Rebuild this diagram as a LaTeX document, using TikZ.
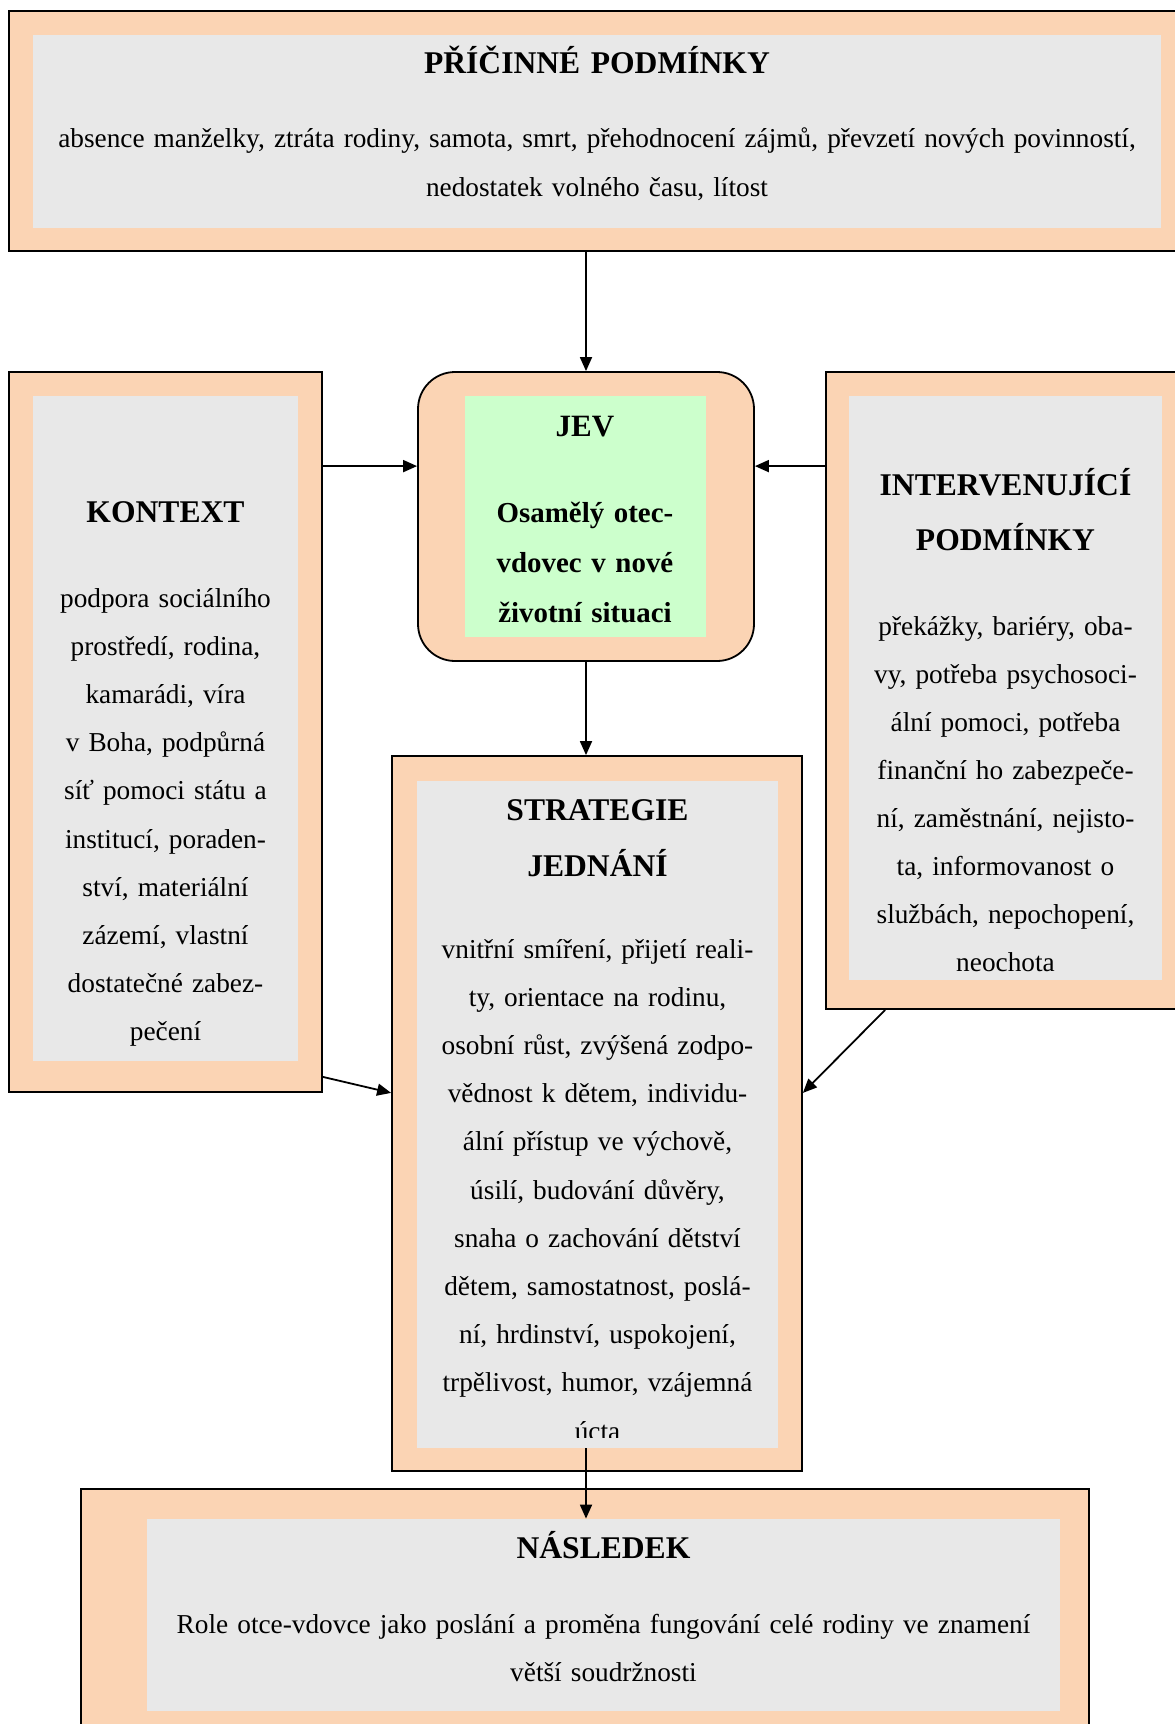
\documentclass[tikz,border=0pt]{standalone}
\usepackage{fontspec}
\setmainfont{Liberation Serif}
\usetikzlibrary{arrows.meta}
\definecolor{paradigmPeach}{RGB}{251,212,180}
\definecolor{paradigmGray}{RGB}{232,232,232}
\definecolor{paradigmGreen}{RGB}{204,255,204}

\begin{document}
\begin{tikzpicture}[x=0.5pt, y=-0.5pt,
        outerBox/.style={draw, line width=0.9pt, fill=paradigmPeach, inner sep=0pt},
        innerBox/.style={fill=paradigmGray, inner sep=0pt},
        titleText/.style={anchor=base, inner sep=0pt, align=center, font=\fontsize{15.8}{27.5}\selectfont\bfseries},
        bodyText/.style={anchor=base, inner sep=0pt, align=center, font=\fontsize{13.65}{24.1}\selectfont},
        flowArrow/.style={-{Triangle[length=7pt,width=6pt]}, line width=0.9pt}]
            \useasboundingbox (0,0) rectangle (1174,1724);
            % pricinne podminky
            \node[outerBox, minimum width=590.5pt, minimum height=120pt] (cause) at (599.5,131) {};
            \node[innerBox, minimum width=564pt, minimum height=96.5pt] (cause-in) at (597,131.5) {};
            \node[titleText, text width=560pt] (cause-title) at (597,73) {PŘÍČINNÉ PODMÍNKY};
            \node[bodyText, text width=560pt, font=\fontsize{13.65}{24.5}\selectfont] (cause-body) at (597,147) {absence manželky, ztráta rodiny, samota, smrt, přehodnocení zájmů, převzetí nových povinností,\\nedostatek volného času, lítost};
            % jev
            \node[outerBox, rounded corners=18.5pt, minimum width=168pt, minimum height=144.5pt] (jev) at (586,516.5) {};
            \node[innerBox, fill=paradigmGreen, minimum width=120.5pt, minimum height=120.5pt] (jev-in) at (585.5,516.5) {};
            \node[titleText, text width=118pt, font=\fontsize{15.5}{27.5}\selectfont\bfseries] (jev-title) at (585,436) {JEV};
            \node[bodyText, text width=118pt, font=\fontsize{14.45}{25}\selectfont\bfseries] (jev-body) at (585,522) {Osamělý otec-\\vdovec v nové\\životní situaci};
            % kontext
            \node[outerBox, minimum width=156.5pt, minimum height=360pt] (kontext) at (165.5,732) {};
            \node[innerBox, minimum width=132.5pt, minimum height=332.5pt] (kontext-in) at (165.5,728.5) {};
            \node[titleText, text width=130pt] (kontext-title) at (165.5,522) {KONTEXT};
            \node[bodyText, text width=130pt] (kontext-body) at (165.5,607) {podpora sociálního\\prostředí, rodina,\\kamarádi, víra\\v Boha, podpůrná\\síť pomoci státu a\\institucí, poraden-\\ství, materiální\\zázemí, vlastní\\dostatečné zabez-\\pečení};
            % intervenujici podminky
            \node[outerBox, minimum width=180pt, minimum height=318.5pt] (interv) at (1006,690.5) {};
            \node[innerBox, minimum width=156.5pt, minimum height=292pt] (interv-in) at (1005.5,688) {};
            \node[titleText, text width=154pt] (interv-title) at (1005.5,495) {INTERVENUJÍCÍ\\PODMÍNKY};
            \node[bodyText, text width=154pt, font=\fontsize{13.65}{24}\selectfont] (interv-body) at (1005.5,635) {překážky, bariéry, oba-\\vy, potřeba psychosoci-\\ální pomoci, potřeba\\finanční ho zabezpeče-\\ní, zaměstnání, nejisto-\\ta, informovanost o\\službách, nepochopení,\\neochota};
            % strategie jednani
            \node[outerBox, minimum width=205pt, minimum height=357.5pt] (strat) at (597,1113.5) {};
            \node[innerBox, minimum width=180.5pt, minimum height=333.5pt] (strat-in) at (597.5,1114.5) {};
            \node[titleText, text width=178pt, font=\fontsize{15.8}{28}\selectfont\bfseries] (strat-title) at (597.5,820) {STRATEGIE\\JEDNÁNÍ};
            \begin{scope}
                \clip (strat-in.north west) rectangle ([yshift=5.5pt]strat-in.south east);
                \node[bodyText, text width=178pt] (strat-body) at (597.5,958) {vnitřní smíření, přijetí reali-\\ty, orientace na rodinu,\\osobní růst, zvýšená zodpo-\\vědnost k dětem, individu-\\ální přístup ve výchově,\\úsilí, budování důvěry,\\snaha o zachování dětství\\dětem, samostatnost, poslá-\\ní, hrdinství, uspokojení,\\trpělivost, humor, vzájemná\\úcta};
            \end{scope}
            % nasledek
            \node[outerBox, minimum width=504pt, minimum height=128pt] (eff) at (585,1617) {};
            \node[innerBox, minimum width=456.5pt, minimum height=96pt] (eff-in) at (603.5,1615) {};
            \node[titleText, text width=454pt] (eff-title) at (603.5,1558) {NÁSLEDEK};
            \node[bodyText, text width=454pt, font=\fontsize{13.65}{24}\selectfont] (eff-body) at (603.5,1633) {Role otce-vdovce jako poslání a proměna fungování celé rodiny ve znamení\\větší soudržnosti};
            % sipky
            \draw[flowArrow] (cause.south -| jev.north) -- (jev.north);
            \draw[flowArrow] ([yshift=-47.5pt]kontext.north east) coordinate (k1) -- (k1 -| jev.west);
            \draw[flowArrow] ([yshift=-47.5pt]interv.north west) coordinate (i1) -- (i1 -| jev.east);
            \draw[flowArrow] (jev.south) -- (jev.south |- strat.north);
            \draw[flowArrow] ([yshift=8pt]kontext.south east) -- (kontext.south -| strat.west);
            \draw[flowArrow] ([xshift=30pt]interv.south west) -- (kontext.south -| strat.east);
            \draw[flowArrow] (jev.south |- strat-in.south) -- (jev.south |- eff-in.north);
        \end{tikzpicture}
\end{document}
